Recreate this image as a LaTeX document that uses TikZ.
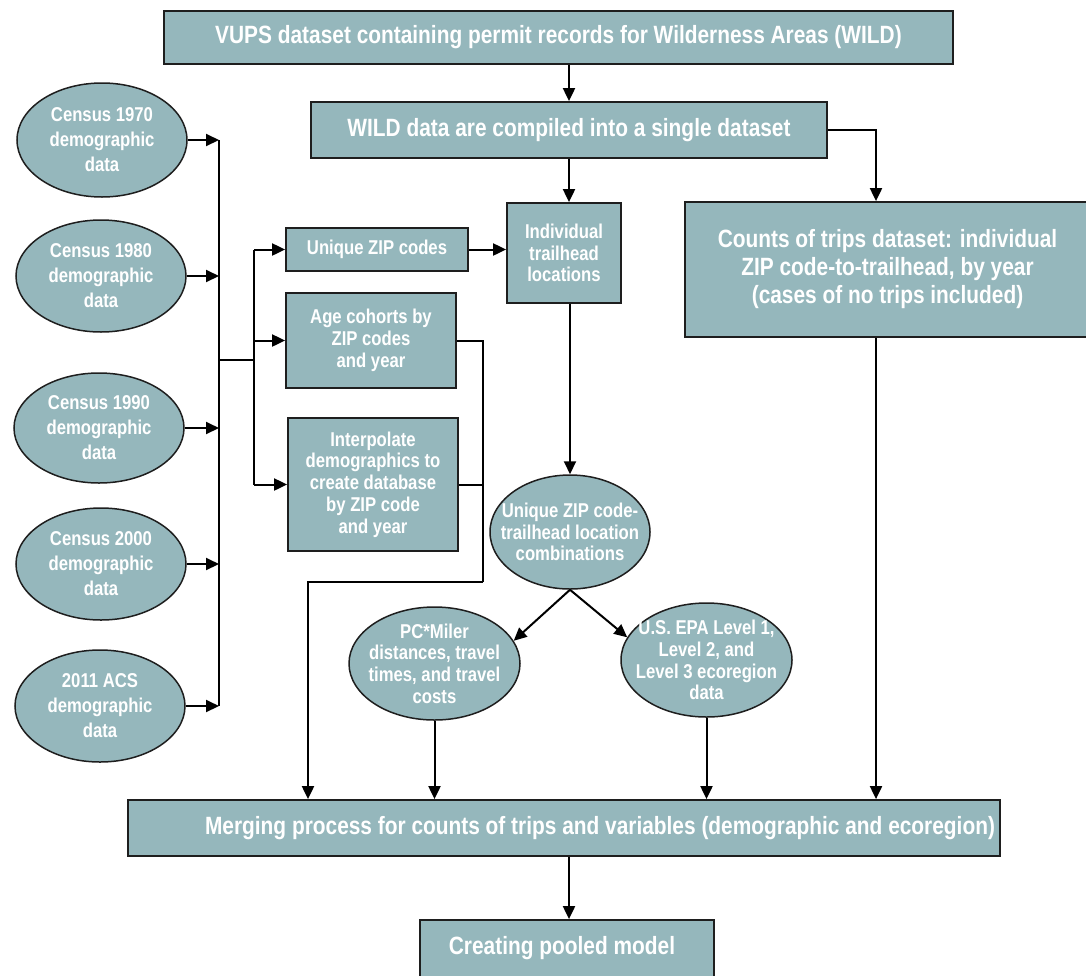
\documentclass[tikz,border=0pt]{standalone}
\usepackage{fontspec}
\setmainfont{Liberation Sans}[FakeStretch=0.835]
\usetikzlibrary{shapes.geometric,arrows.meta}
\definecolor{boxfill}{HTML}{95B7BC}
\definecolor{edge}{HTML}{1E1E1E}
\tikzset{
  fbig/.style={font=\bfseries\fontsize{25}{28}\selectfont},
  fsmall/.style={font=\bfseries\fontsize{20}{21.7}\selectfont},
  fcensus/.style={font=\bfseries\fontsize{20}{25}\selectfont},
  box/.style={draw=edge, line width=1.8, fill=boxfill, text=white, align=center, inner sep=0, fsmall},
  ell/.style={ellipse, draw=edge, line width=1.5, fill=boxfill, inner sep=0},
  etxt/.style={text=white, align=center, inner sep=0, fsmall},
  ln/.style={line width=2, draw=black},
  arr/.style={ln, -{Triangle[length=13,width=12]}},
}
\begin{document}
\begin{tikzpicture}[x=1pt,y=-1pt]
\useasboundingbox (0,0) rectangle (1086,975);

% boxes
\node[box, fbig, minimum width=789, minimum height=53] (top) at (558.5,37.5) {VUPS dataset containing permit records for Wilderness Areas (WILD)};
\node[box, fbig, minimum width=516, minimum height=56] (wild) at (569,130) {WILD data are compiled into a single dataset};
\node[box, fbig, minimum width=405, minimum height=135] (counts) at (887.5,269.5) {Counts of trips dataset: individual\\ZIP code-to-trailhead, by year\\(cases of no trips included)};
\node[box, minimum width=114, minimum height=100] (ind) at (564,253) {Individual\\trailhead\\locations};
\node[box, minimum width=182, minimum height=43] (zip) at (377,249.5) {Unique ZIP codes};
\node[box, minimum width=170, minimum height=95] (age) at (371,340.5) {Age cohorts by\\ZIP codes\\and year};
\node[box, minimum width=170, minimum height=133] (interp) at (373,484.5) {Interpolate\\demographics to\\create database\\by ZIP code\\and year};
\node[box, minimum width=872, minimum height=56] (merge) at (564,828) {};
\node[etxt, fbig] (merget) at (600,828) {Merging process for counts of trips and variables (demographic and ecoregion)};
\node[box, minimum width=294, minimum height=70] (pool) at (567,955) {};
\node[etxt, fbig] (poolt) at (562,948) {Creating pooled model};

% ellipses
\node[ell, minimum width=170, minimum height=114] (c70) at (102,140) {};
\node[etxt, fcensus] (c70t) at (c70) {Census 1970\\demographic\\data};
\node[ell, minimum width=170, minimum height=112] (c80) at (101,276) {};
\node[etxt, fcensus] (c80t) at (c80) {Census 1980\\demographic\\data};
\node[ell, minimum width=170, minimum height=110] (c90) at (99,428) {};
\node[etxt, fcensus] (c90t) at (c90) {Census 1990\\demographic\\data};
\node[ell, minimum width=170, minimum height=112] (c00) at (101,564) {};
\node[etxt, fcensus] (c00t) at (c00) {Census 2000\\demographic\\data};
\node[ell, minimum width=170, minimum height=112] (acs) at (100,706) {};
\node[etxt, fcensus] (acst) at (acs) {2011 ACS\\demographic\\data};
\node[ell, minimum width=160, minimum height=114] (zc) at (570,532) {};
\node[etxt] (zct) at (zc) {Unique ZIP code-\\trailhead location\\combinations};
\node[ell, minimum width=171, minimum height=113] (pc) at (434.5,663.5) {};
\node[etxt] (pct) at (pc) {PC*Miler\\distances, travel\\times, and travel\\costs};
\node[ell, minimum width=171, minimum height=114] (epa) at (706.5,660) {};
\node[etxt] (epat) at (epa) {U.S. EPA Level 1,\\Level 2, and\\Level 3 ecoregion\\data};

% coordinates
\coordinate (bus) at (219,360);
\coordinate (bus2) at (254,360);
\coordinate (rj) at (483,582);
\coordinate (lj) at (308,582);

% connectors
\draw[arr] (wild.north |- top.south) -- (wild.north);
\draw[arr] (wild.south) -- (wild.south |- ind.north);
\draw[arr] (wild.east) -| ([xshift=-11.5pt]counts.north);
\draw[ln] (bus |- c70.east) -- (bus |- acs.east);
\foreach \e in {c70,c80,c90,c00,acs}{
  \draw[arr] (\e.east) -- (\e.east -| bus);
}
\draw[ln] (bus) -- (bus2);
\draw[ln] (bus2 |- zip.west) -- (bus2 |- interp.west);
\draw[arr] (bus2 |- zip.west) -- (zip.west);
\draw[arr] (bus2 |- age.west) -- (age.west);
\draw[arr] (bus2 |- interp.west) -- (interp.west);
\draw[arr] (zip.east) -- (zip.east -| ind.west);
\draw[arr] (zc.north |- ind.south) -- (zc.north);
\draw[arr] (zc.south) -- (pc.16);
\draw[arr] (zc.south) -- (epa.164);
\draw[ln] (age.east) -- (age.east -| rj) -- (rj);
\draw[ln] (interp.east) -- (interp.east -| rj);
\draw[arr] (rj) -- (lj) -- (lj |- merge.north);
\draw[arr] (pc.south) -- (pc.south |- merge.north);
\draw[arr] (epa.south) -- (epa.south |- merge.north);
\draw[arr] ([xshift=-11.5pt]counts.south) -- ([xshift=-11.5pt]counts.south |- merge.north);
\draw[arr] ([xshift=5pt]merge.south) -- ([xshift=5pt]merge.south |- pool.north);
\end{tikzpicture}
\end{document}
